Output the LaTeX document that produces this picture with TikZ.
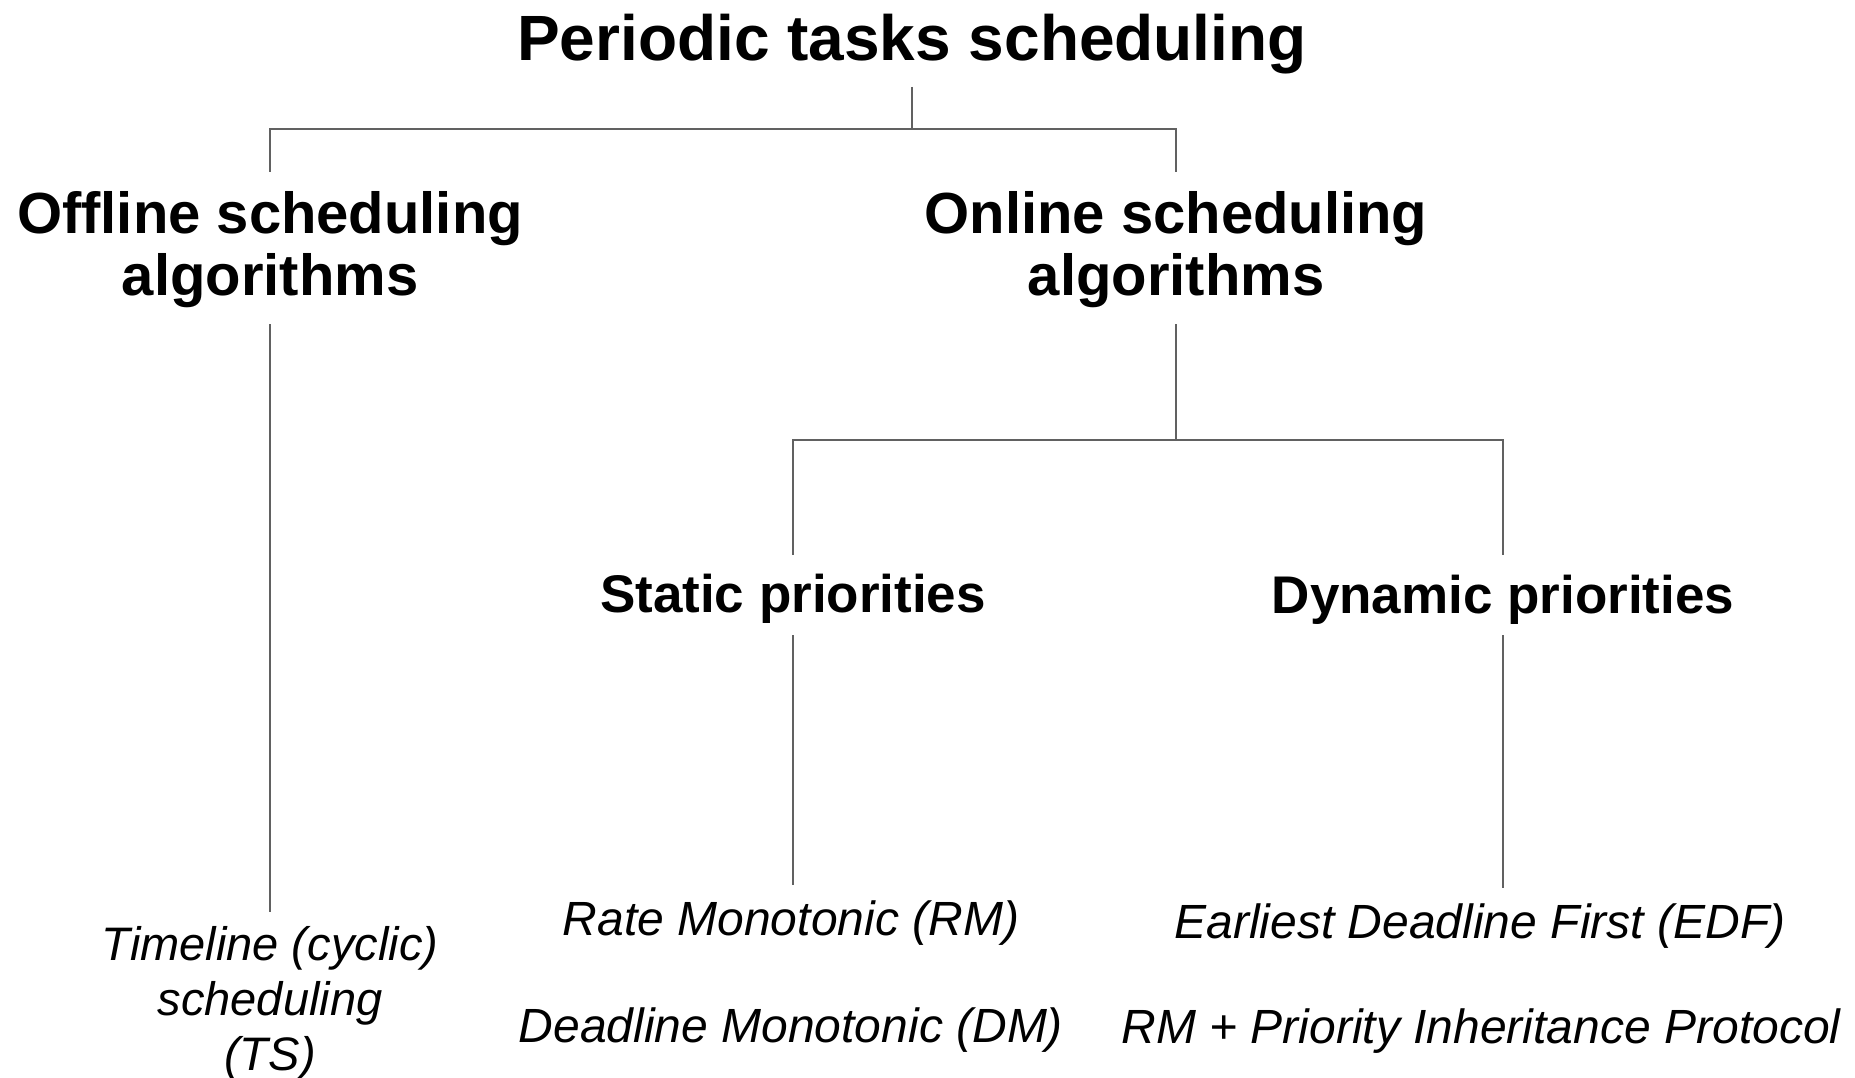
\documentclass[tikz,border=0pt]{standalone}
\usepackage{fontspec}
\setmainfont{Liberation Sans}
\begin{document}
\begin{tikzpicture}[x=1pt,y=-1pt,
  edge/.style={draw=black!62, line width=1.9pt},
  lvlzero/.style={font=\fontsize{64}{70}\selectfont\bfseries, inner sep=0pt, anchor=base},
  lvlone/.style={font=\fontsize{58}{62}\selectfont\bfseries, align=center, inner sep=0pt, anchor=base},
  lvltwo/.style={font=\fontsize{53}{60}\selectfont\bfseries, inner sep=0pt, anchor=base},
  leaf/.style={font=\fontsize{48}{55}\selectfont\itshape, inner sep=0pt, anchor=base, align=center}]
\useasboundingbox (0,0) rectangle (1855,1077);
\fill[white] (0,0) rectangle (1855,1077);

% tree nodes (multi-line nodes are placed by the baseline of their last line)
\node[lvlzero] (title) at (912,60) {Periodic tasks scheduling};
\node[lvlone] (offline) at (270,295) {Offline scheduling\\algorithms};
\node[lvlone] (online) at (1176,295) {Online scheduling\\algorithms};
\node[lvltwo] (static) at (793,612) {Static priorities};
\node[lvltwo] (dynamic) at (1503,613) {Dynamic priorities};
\node[leaf, font=\fontsize{47}{55}\selectfont\itshape] (ts) at (270,1070) {Timeline (cyclic)\\scheduling\\(TS)};
\node[leaf] (rm) at (791,935) {Rate Monotonic (RM)};
\node[leaf] (dm) at (791,1042) {Deadline Monotonic (DM)};
\node[leaf] (edf) at (1480,938) {Earliest Deadline First (EDF)};
\node[leaf] (pip) at (1481,1043) {RM + Priority Inheritance Protocol};

% branch points
\coordinate (j1) at (912,129);
\coordinate (j2) at (1176,440);

% connectors
\draw[edge, shorten <=13pt] (title.south) -- (j1);
\draw[edge, shorten >=19pt] (j1) -| (offline.north);
\draw[edge, shorten >=19pt] (j1) -| (online.north);
\draw[edge, shorten <=17pt] (online.south) -- (j2);
\draw[edge, shorten >=18pt] (j2) -| (static.north);
\draw[edge, shorten >=19pt] (j2) -| (dynamic.north);
\draw[edge, shorten <=17pt, shorten >=14pt] (offline.south) -- (ts.north);
\draw[edge, shorten <=12pt, shorten >=15pt] (static.south) -- (static.south |- rm.north);
\draw[edge, shorten <=11pt, shorten >=15pt] (dynamic.south) -- (dynamic.south |- edf.north);
\end{tikzpicture}
\end{document}
